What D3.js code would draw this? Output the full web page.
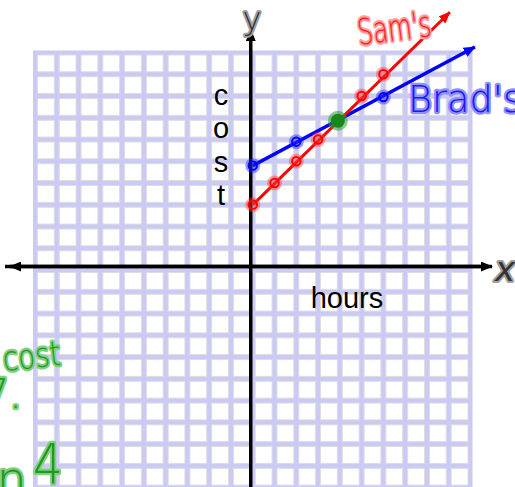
<!DOCTYPE html>
<html>
<head>
<meta charset="utf-8">
<script src="https://cdn.jsdelivr.net/npm/d3@7"></script>
<style>
  html, body { margin: 0; padding: 0; background: #fff; overflow: hidden; }
  svg { display: block; }
</style>
</head>
<body>
<svg id="chart" width="515" height="487"></svg>
<script>
// ---- graph paper extent (graph units) ----
const gridMin = -10;
const gridMax = 10;

// ---- Sam's plan: cost vs hours ----
const samHours = [0, 1, 2, 3, 5, 6];
const samCost = [3, 4, 5, 6, 8, 9];
const samLineHours = [0, 9.05];
const samLineCost = [3, 11.85];

// ---- Brad's plan ----
const bradHours = [0, 2, 6];
const bradCost = [4.8, 5.9, 7.95];
const bradLineHours = [0, 10.2];
const bradLineCost = [4.8, 10.25];

// ---- where both plans cost the same ----
const meetHours = [4];
const meetCost = [7];

// ---- labels ----
const costLetters = ["c", "o", "s", "t"];
const xLabel = "hours";
const seriesNames = ["Sam's", "Brad's"];
const noteLines = ["cost", "7.", "in", "4"];

const svg = d3.select("#chart");

const x = d3.scaleLinear().domain([gridMin, gridMax]).range([35, 470.5]);
const y = d3.scaleLinear().domain([gridMin, gridMax]).range([487.6, 52.5]);
const pitch = x(1) - x(0);

// axes are pen-drawn slightly up/left of the printed grid lines
const axisX = x(0) - 2;
const axisY = y(0) - 3.5;

// ---- graph paper ----
const paper = svg.append("g");
paper.append("rect")
  .attr("x", x(gridMin) - 2).attr("y", y(gridMax) - 2)
  .attr("width", x(gridMax) - x(gridMin) + 4)
  .attr("height", y(gridMin) - y(gridMax) + 4)
  .attr("fill", "#cacaf4");

const cells = [];
for (let i = gridMin; i < gridMax; i++) {
  for (let j = gridMin; j < gridMax; j++) cells.push([i, j]);
}
paper.selectAll("rect.cell").data(cells).join("rect")
  .attr("class", "cell")
  .attr("x", d => x(d[0]) + 2.5)
  .attr("y", d => y(d[1] + 1) + 2.5)
  .attr("width", pitch - 5)
  .attr("height", pitch - 5)
  .attr("fill", "#ffffff")
  .attr("stroke", "#dedede")
  .attr("stroke-width", 1);

// ---- arrow markers ----
const defs = svg.append("defs");
function marker(id, color, w, h) {
  defs.append("marker")
    .attr("id", id)
    .attr("viewBox", `0 ${-h} ${w} ${2 * h}`)
    .attr("refX", w - 1).attr("refY", 0)
    .attr("markerUnits", "userSpaceOnUse")
    .attr("markerWidth", w).attr("markerHeight", 2 * h)
    .attr("orient", "auto")
    .append("path")
    .attr("d", `M0,${-h}L${w},0L0,${h}Z`)
    .attr("fill", color);
}
marker("arrBlack", "#000", 12, 5);
marker("arrRed", "#ff0000", 12, 5);
marker("arrBlue", "#0000ff", 12, 5);

// ---- coordinate axes ----
const axes = svg.append("g").attr("stroke", "#000").attr("stroke-width", 3.5);
axes.append("line")
  .attr("x1", axisX).attr("y1", y(gridMin) + 10)
  .attr("x2", axisX).attr("y2", 30)
  .attr("marker-end", "url(#arrBlack)");
axes.append("line")
  .attr("x1", x(gridMax) + 10).attr("y1", axisY)
  .attr("x2", 10).attr("y2", axisY)
  .attr("marker-end", "url(#arrBlack)");
axes.append("line")
  .attr("x1", x(gridMin) - 30).attr("y1", axisY)
  .attr("x2", 492).attr("y2", axisY)
  .attr("marker-end", "url(#arrBlack)");

// ---- axis labels ----
svg.append("g").selectAll("text").data(costLetters).join("text")
  .attr("x", 221)
  .attr("y", (d, i) => 105 + i * 33.3)
  .attr("text-anchor", "middle")
  .attr("font-family", "Liberation Sans, Arial, sans-serif")
  .attr("font-size", 29)
  .attr("fill", "#000")
  .text(d => d);

svg.append("text")
  .attr("x", 347).attr("y", 308)
  .attr("text-anchor", "middle")
  .attr("font-family", "Liberation Sans, Arial, sans-serif")
  .attr("font-size", 29)
  .attr("fill", "#000")
  .text(xLabel);

// marker-pen style text helper
function pen(sel, fill, halo, hw) {
  return sel
    .attr("font-family", "DejaVu Sans, sans-serif")
    .attr("font-weight", 200)
    .attr("fill", fill)
    .attr("stroke", halo)
    .attr("stroke-width", hw)
    .attr("stroke-linejoin", "round")
    .attr("paint-order", "stroke");
}

pen(svg.append("text"), "#333", "#a0a0a0", 4)
  .attr("x", 252).attr("y", 30)
  .attr("text-anchor", "middle")
  .attr("font-size", 32)
  .text("y");
pen(svg.append("text"), "#333", "#a0a0a0", 4)
  .attr("x", 505).attr("y", 281)
  .attr("text-anchor", "middle")
  .attr("font-size", 34)
  .attr("font-style", "italic")
  .text("x");

// ---- plan lines ----
const line = d3.line().x(d => x(d[0])).y(d => y(d[1]));
svg.append("path")
  .datum(d3.zip(bradLineHours, bradLineCost))
  .attr("d", line)
  .attr("fill", "none")
  .attr("stroke", "#0000ff")
  .attr("stroke-width", 3.5)
  .attr("marker-end", "url(#arrBlue)");
svg.append("path")
  .datum(d3.zip(samLineHours, samLineCost))
  .attr("d", line)
  .attr("fill", "none")
  .attr("stroke", "#ff0000")
  .attr("stroke-width", 3)
  .attr("marker-end", "url(#arrRed)");

// ---- plotted points (pen circles with ink halo) ----
function dots(hours, cost, color, halo) {
  const g = svg.append("g");
  const pts = d3.zip(hours, cost);
  g.selectAll("circle.halo").data(pts).join("circle")
    .attr("class", "halo")
    .attr("cx", d => x(d[0])).attr("cy", d => y(d[1]))
    .attr("r", 7.5)
    .attr("fill", halo);
  g.selectAll("circle.ring").data(pts).join("circle")
    .attr("class", "ring")
    .attr("cx", d => x(d[0])).attr("cy", d => y(d[1]))
    .attr("r", 4.2)
    .attr("fill", "none")
    .attr("stroke", color)
    .attr("stroke-width", 2);
}
dots(samHours, samCost, "#ff0000", "rgba(255,60,60,0.45)");
dots(bradHours, bradCost, "#0000ff", "rgba(40,40,255,0.45)");

const meet = svg.append("g");
const meetPts = d3.zip(meetHours, meetCost);
meet.selectAll("circle.halo").data(meetPts).join("circle")
  .attr("class", "halo")
  .attr("cx", d => x(d[0]) - 2).attr("cy", d => y(d[1]) + 3)
  .attr("r", 10)
  .attr("fill", "rgba(40,160,40,0.55)");
meet.selectAll("circle.dot").data(meetPts).join("circle")
  .attr("class", "dot")
  .attr("cx", d => x(d[0]) - 2).attr("cy", d => y(d[1]) + 3)
  .attr("r", 7)
  .attr("fill", "#16881a");

// ---- series names ----
pen(svg.append("text"), "#ff1a1a", "#ffa0a0", 4.5)
  .attr("transform", "translate(359,45) rotate(-7)")
  .attr("font-size", 36)
  .attr("textLength", 74)
  .attr("lengthAdjust", "spacingAndGlyphs")
  .text(seriesNames[0]);
pen(svg.append("text"), "#1818ff", "#9090ff", 4.5)
  .attr("x", 408).attr("y", 112)
  .attr("font-size", 38)
  .attr("textLength", 114)
  .attr("lengthAdjust", "spacingAndGlyphs")
  .text(seriesNames[1]);

// ---- margin notes ----
const note = (t, px, py, fs, len) => {
  const s = pen(svg.append("text"), "#1f9a1f", "#80d080", 4.5)
    .attr("x", px).attr("y", py)
    .attr("font-size", fs)
    .text(t);
  if (len) s.attr("textLength", len).attr("lengthAdjust", "spacingAndGlyphs");
  return s;
};
note(noteLines[0], 4, 371, 34, 58).attr("transform", "rotate(-6,4,371)");
note(noteLines[1], 22, 408, 40).attr("text-anchor", "end");
note(noteLines[2], 27, 496, 48).attr("text-anchor", "end");
note(noteLines[3], 33, 483, 56, 30);
</script>
</body>
</html>
